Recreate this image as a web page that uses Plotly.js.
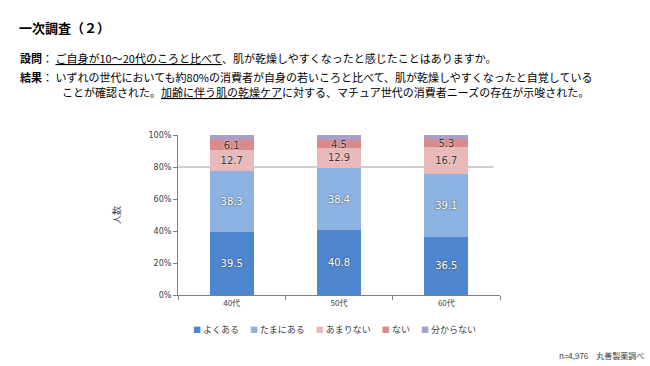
<!DOCTYPE html>
<html><head><meta charset="utf-8">
<script src="https://cdn.plot.ly/plotly-3.0.1.min.js"></script>
<style>html,body{margin:0;padding:0;background:#fff}#c{width:650px;height:366px}</style>
</head><body><div id="c"></div>
<script>
const categories = ['40代', '50代', '60代'];
const seriesNames = ['よくある', 'たまにある', 'あまりない', 'ない', '分からない'];
const yokuaru = [39.5, 40.8, 36.5];
const tamani = [38.3, 38.4, 39.1];
const amari = [12.7, 12.9, 16.7];
const nai = [6.1, 4.5, 5.3];
const wakaranai = [3.4, 3.4, 2.4];
const yTickVals = [0, 20, 40, 60, 80, 100];
const yTickText = ['0%', '20%', '40%', '60%', '80%', '100%'];

const FONT = '"Noto Sans CJK JP", sans-serif';
const NUMFONT = 'Verdana, "DejaVu Sans", sans-serif';
const colors = ['#4f86d0', '#8db3e3', '#e8b9b8', '#da8a8a', '#a99fcc'];
const values = [yokuaru, tamani, amari, nai, wakaranai];
const showText = [true, true, true, true, false];
const lightText = [true, true, false, false, false];

const traces = values.map((v, i) => ({
  type: 'bar', name: seriesNames[i], x: categories, y: v,
  marker: {color: colors[i], line: {width: 0}},
  text: showText[i] ? v.map(d => d.toFixed(1)) : undefined,
  texttemplate: showText[i] ? '%{text}' : '',
  textposition: showText[i] ? 'inside' : 'none',
  insidetextanchor: 'middle',
  constraintext: 'none',
  textangle: 0,
  textfont: lightText[i]
    ? {family: NUMFONT, size: 10, color: '#ffffff', shadow: '0px 0px 2px #333'}
    : {family: NUMFONT, size: 10, color: '#333333', shadow: '0px 0px 2px #ffffff'},
  hoverinfo: 'skip',
  showlegend: false
}));

function ann(text, x, y, size, anchor) {
  return {text: text, xref: 'paper', yref: 'paper', showarrow: false,
    x: (x - 178) / 322, y: (366 - 71 - y) / 160, xanchor: anchor || 'left', yanchor: 'middle',
    align: 'left', borderpad: 0, font: {family: FONT, size: size, color: '#000'}};
}

const legendText = seriesNames.map((n, i) =>
  '<span style="color:' + colors[i] + ';font-size:8px">■</span> ' + n).join('　 ');
const legendAnn = ann(legendText, 334, 329, 9, 'center');
legendAnn.font.color = '#404040';
const srcAnn = ann('n=4,976　丸善製薬調べ', 645, 355, 8, 'right');
srcAnn.font.color = '#404040';

const layout = {
  width: 650, height: 366,
  margin: {l: 178, r: 150, t: 135, b: 71},
  paper_bgcolor: '#fff', plot_bgcolor: '#fff',
  barmode: 'stack', bargap: 0.59,
  font: {family: FONT, size: 9, color: '#404040'},
  showlegend: false,
  xaxis: {type: 'category', showline: true, linecolor: '#808080', linewidth: 1,
    ticks: 'outside', tickson: 'boundaries', ticklen: 4, tickcolor: '#808080',
    tickfont: {family: FONT, size: 8, color: '#404040'}, showgrid: false, zeroline: false},
  yaxis: {range: [0, 100], tickvals: yTickVals, ticktext: yTickText, showline: true,
    linecolor: '#808080', linewidth: 1, ticks: 'outside', ticklen: 4, tickcolor: '#808080',
    showgrid: false, zeroline: false,
    tickfont: {family: NUMFONT, size: 8, color: '#404040'},
    title: {text: '人数', font: {family: FONT, size: 9, color: '#404040'}, standoff: 26}},
  shapes: [{type: 'line', xref: 'paper', yref: 'y', x0: 0, x1: 0.98, y0: 80, y1: 80,
    line: {color: '#a0a0a0', width: 1}, layer: 'below'}],
  annotations: [
    ann('<b>一次調査（２）</b>', 18, 27, 13),
    ann('<b>設問</b>： <u>ご自身が10～20代のころと比べて</u>、肌が乾燥しやすくなったと感じたことはありますか。', 19, 58, 11),
    ann('<b>結果</b>： いずれの世代においても約80%の消費者が自身の若いころと比べて、肌が乾燥しやすくなったと自覚している', 19, 77, 11),
    ann('ことが確認された。<u>加齢に伴う肌の乾燥ケア</u>に対する、マチュア世代の消費者ニーズの存在が示唆された。', 61, 92, 11),
    legendAnn,
    srcAnn
  ]
};

Plotly.newPlot('c', traces, layout, {staticPlot: true});
</script></body></html>
